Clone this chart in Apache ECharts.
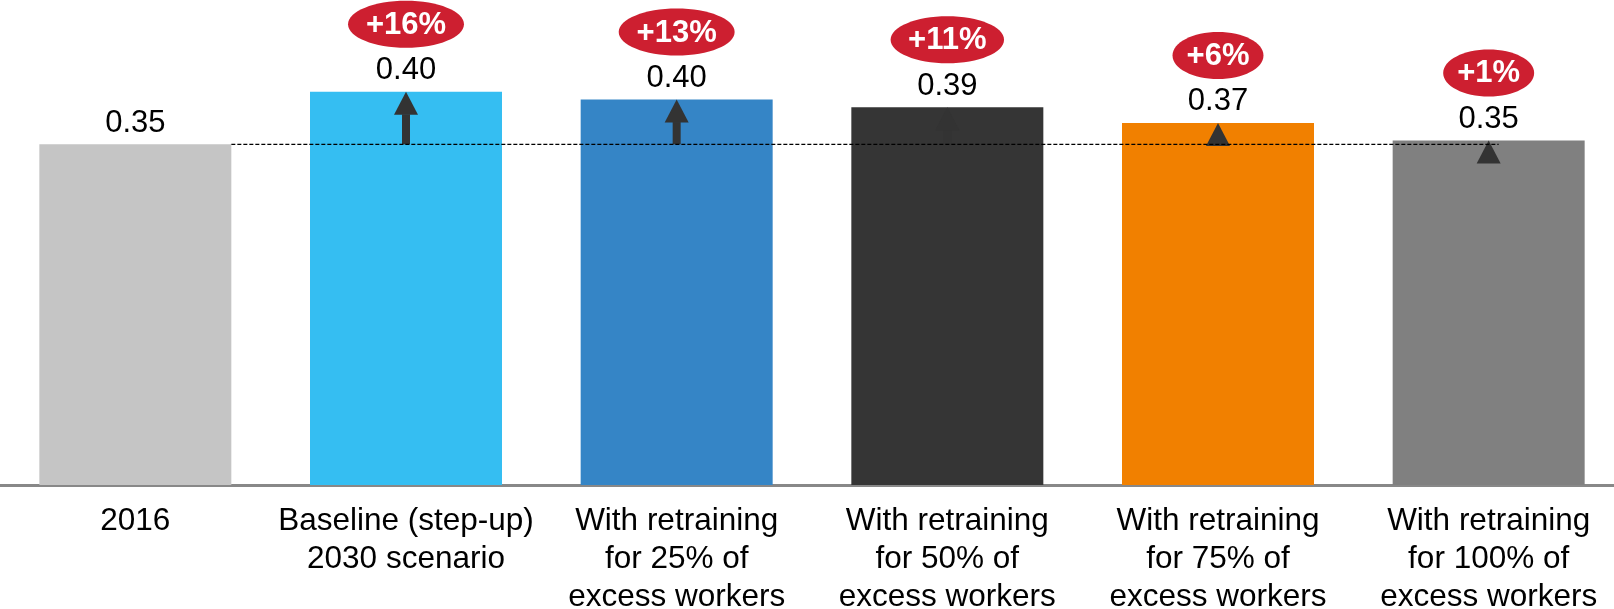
<!DOCTYPE html>
<html><head><meta charset="utf-8">
<script src="https://cdn.jsdelivr.net/npm/echarts@6/dist/echarts.min.js"></script>
<style>html,body{margin:0;padding:0;background:#fff}#c{width:1614px;height:609px}</style>
</head><body><div id="c"></div>
<script>
const categories = [
  '2016',
  'Baseline (step-up)\n2030 scenario',
  'With retraining\nfor 25% of\nexcess workers',
  'With retraining\nfor 50% of\nexcess workers',
  'With retraining\nfor 75% of\nexcess workers',
  'With retraining\nfor 100% of\nexcess workers'
];
const values = [0.350, 0.404, 0.396, 0.388, 0.372, 0.354];
const valueLabels = ['0.35', '0.40', '0.40', '0.39', '0.37', '0.35'];
const changeLabels = ['', '+16%', '+13%', '+11%', '+6%', '+1%'];
const barColors = ['#C5C5C5', '#35BEF2', '#3585C6', '#353535', '#F18000', '#808080'];

const FONT = '"Liberation Sans", Arial, sans-serif';
const arrowColor = '#333333';
const badgeColor = '#CD1F30';
const BAR_W = 192;

const mctx = document.createElement('canvas').getContext('2d');
mctx.font = 'bold 31px ' + FONT;
function textW(t) { return mctx.measureText(t).width; }

const chart = echarts.init(document.getElementById('c'), null, { renderer: 'canvas' });

function renderBase(params, api) {
  const a = api.coord([0, values[0]]);
  const b = api.coord([values.length - 1, values[0]]);
  return {
    type: 'line',
    shape: { x1: a[0] + BAR_W / 2, y1: a[1], x2: b[0] + 10, y2: b[1] },
    style: { stroke: '#000', lineWidth: 1.2, lineDash: [4, 2] },
    z2: 5
  };
}

function renderAnnot(params, api) {
  const i = api.value(0);
  const top = api.coord([i, api.value(1)]);
  const baseY = api.coord([i, values[0]])[1];
  const x = top[0], ty = top[1];
  const headH = 23, headW = 12, shaftW = 4;
  const hb = ty + headH;
  const children = [];
  if (hb < baseY) {
    children.push({ type: 'rect', shape: { x: x - shaftW, y: hb - 0.5, width: shaftW * 2, height: baseY - hb + 0.5 }, style: { fill: arrowColor } });
  }
  children.push({ type: 'polygon', shape: { points: [[x, ty], [x + headW, hb], [x - headW, hb]] }, style: { fill: arrowColor } });
  const txt = changeLabels[i];
  const cy = ty - 67.5;
  children.push({ type: 'ellipse', shape: { cx: x, cy: cy, rx: textW(txt) * 0.723, ry: 23.5 }, style: { fill: badgeColor } });
  children.push({ type: 'text', style: { x: x, y: cy + 1, text: txt, fill: '#fff', font: 'bold 31px ' + FONT, align: 'center', verticalAlign: 'middle' } });
  return { type: 'group', children: children };
}

const annotData = [];
for (let i = 1; i < values.length; i++) annotData.push([i, values[i]]);

chart.setOption({
  animation: false,
  backgroundColor: '#fff',
  grid: { left: 0, width: 1624, top: 47, bottom: 124, containLabel: false, outerBoundsMode: 'none' },
  xAxis: {
    type: 'category',
    data: categories,
    offset: 2,
    axisLine: { lineStyle: { color: '#888888', width: 3 } },
    axisTick: { show: false },
    axisLabel: { interval: 0, color: '#000', fontSize: 31.5, lineHeight: 38, fontFamily: FONT, margin: 15 }
  },
  yAxis: { type: 'value', min: 0, max: 0.45, show: false, splitLine: { show: false } },
  series: [
    {
      type: 'bar',
      barWidth: BAR_W,
      data: values.map((v, i) => ({ value: v, itemStyle: { color: barColors[i] } })),
      label: {
        show: true, position: 'top', distance: 5.5, color: '#000', fontSize: 31, fontFamily: FONT,
        formatter: p => valueLabels[p.dataIndex]
      },
      z: 2
    },
    { type: 'custom', data: [[0, values[0]]], renderItem: renderBase, z: 5, silent: true },
    { type: 'custom', data: annotData, renderItem: renderAnnot, z: 4, silent: true }
  ]
});
</script></body></html>
